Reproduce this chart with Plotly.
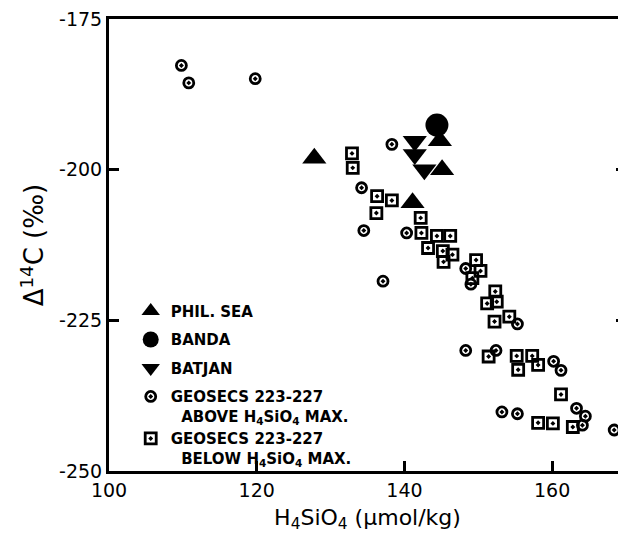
import plotly.graph_objects as go

# ---- data ----
phil_x = [127.8, 141.1, 144.8, 145.1]
phil_y = [-198.1, -205.5, -195.2, -200.0]

banda_x = [144.4]
banda_y = [-192.6]

batjan_x = [141.4, 141.4, 142.7]
batjan_y = [-195.3, -197.5, -200.0]

above_x = [109.8, 110.8, 119.8, 138.3, 134.2, 134.5, 140.3, 137.1, 148.3, 149.0,
           155.3, 148.3, 152.4, 160.2, 161.2, 153.2, 155.3, 163.3, 164.5, 164.1, 168.4]
above_y = [-182.7, -185.6, -184.9, -195.8, -203.0, -210.1, -210.5, -218.5, -216.4, -219.0,
           -225.6, -230.0, -230.0, -231.8, -233.3, -240.2, -240.5, -239.6, -240.9, -242.4, -243.2]

below_x = [132.9, 133.0, 136.3, 138.3, 136.2, 142.2, 142.3, 144.4, 146.2, 143.2,
           145.2, 146.5, 145.3, 149.7, 150.3, 149.2, 152.3, 151.2, 152.5, 152.2,
           154.2, 151.4, 155.2, 155.4, 157.3, 158.1, 161.2, 158.1, 160.1, 162.8]
below_y = [-197.3, -199.7, -204.4, -205.1, -207.2, -208.0, -210.5, -211.0, -211.0, -213.0,
           -213.5, -214.1, -215.3, -215.0, -216.8, -218.0, -220.2, -222.2, -221.9, -225.2,
           -224.4, -231.0, -230.9, -233.2, -230.9, -232.4, -237.3, -242.0, -242.1, -242.7]

x_ticks = [100, 120, 140, 160]
y_ticks = [-250, -225, -200, -175]

names = ["PHIL. SEA", "BANDA", "BATJAN",
         "GEOSECS 223-227<br>\u00a0\u00a0ABOVE H<sub>4</sub>SiO<sub>4</sub> MAX.",
         "GEOSECS 223-227<br>\u00a0\u00a0BELOW H<sub>4</sub>SiO<sub>4</sub> MAX."]

BLACK = "black"
fig = go.Figure()

fig.add_trace(go.Scatter(x=above_x, y=above_y, mode="markers", name=names[3], legendrank=4,
                         legendgroup="g4",
                         marker=dict(symbol="circle-open-dot", size=10, color=BLACK,
                                     line=dict(width=2.8, color=BLACK))))
fig.add_trace(go.Scatter(x=below_x, y=below_y, mode="markers", name=names[4], legendrank=5,
                         legendgroup="g4",
                         marker=dict(symbol="square-open-dot", size=11, color=BLACK,
                                     line=dict(width=2.8, color=BLACK))))
fig.add_trace(go.Scatter(x=phil_x, y=phil_y, mode="markers", name=names[0], legendrank=1,
                         legendgroup="g1",
                         marker=dict(symbol="triangle-up", size=21, color=BLACK)))
fig.add_trace(go.Scatter(x=batjan_x, y=batjan_y, mode="markers", name=names[2], legendrank=3,
                         legendgroup="g3",
                         marker=dict(symbol="triangle-down", size=21, color=BLACK)))
fig.add_trace(go.Scatter(x=banda_x, y=banda_y, mode="markers", name=names[1], legendrank=2,
                         legendgroup="g2",
                         marker=dict(symbol="circle", size=23, color=BLACK)))
# helper trace for the right-hand tick axis
fig.add_trace(go.Scatter(x=[None], y=[None], yaxis="y2", showlegend=False, hoverinfo="skip"))

tickfont = dict(family="DejaVu Sans", size=19, color=BLACK)

# the page body has an 8px margin: the figure is sized to fit inside the window
fig.update_layout(
    width=618, height=527,
    margin=dict(l=101, r=0, t=9, b=64),
    paper_bgcolor="white", plot_bgcolor="white",
    showlegend=True,
    legend=dict(x=0.042, y=0.39, xanchor="left", yanchor="top",
                bgcolor="rgba(0,0,0,0)", borderwidth=0,
                font=dict(family="DejaVu Sans", size=15, color=BLACK, weight="bold"),
                valign="top", tracegroupgap=6, itemsizing="trace",
                groupclick="toggleitem"),
    xaxis=dict(range=[100, 170], tickvals=x_ticks, ticktext=[str(v) for v in x_ticks],
               ticks="inside", ticklen=10, tickwidth=2.5, tickcolor=BLACK,
               showline=True, linewidth=3, linecolor=BLACK, mirror=True,
               showgrid=False, zeroline=False, tickfont=tickfont,
               title=dict(text="H<sub>4</sub>SiO<sub>4</sub> (\u03bcmol/kg)",
                          font=dict(family="DejaVu Sans", size=22, color=BLACK), standoff=10)),
    yaxis=dict(range=[-250, -175], tickvals=y_ticks, ticktext=[str(v) for v in y_ticks],
               ticks="inside", ticklen=10, tickwidth=2.5, tickcolor=BLACK,
               showline=True, linewidth=3, linecolor=BLACK, mirror=False,
               showgrid=False, zeroline=False, tickfont=tickfont,
               ticklabeloverflow="allow",
               title=dict(text="\u0394<sup>14</sup>C (\u2030)",
                          font=dict(family="DejaVu Sans", size=26, color=BLACK), standoff=8)),
    yaxis2=dict(range=[-250, -175], overlaying="y", side="right", anchor="x",
                tickvals=y_ticks, ticks="inside", ticklen=10, tickwidth=2.5, tickcolor=BLACK,
                showticklabels=False, showline=False, showgrid=False, zeroline=False),
)

fig.write_html("out.html")
